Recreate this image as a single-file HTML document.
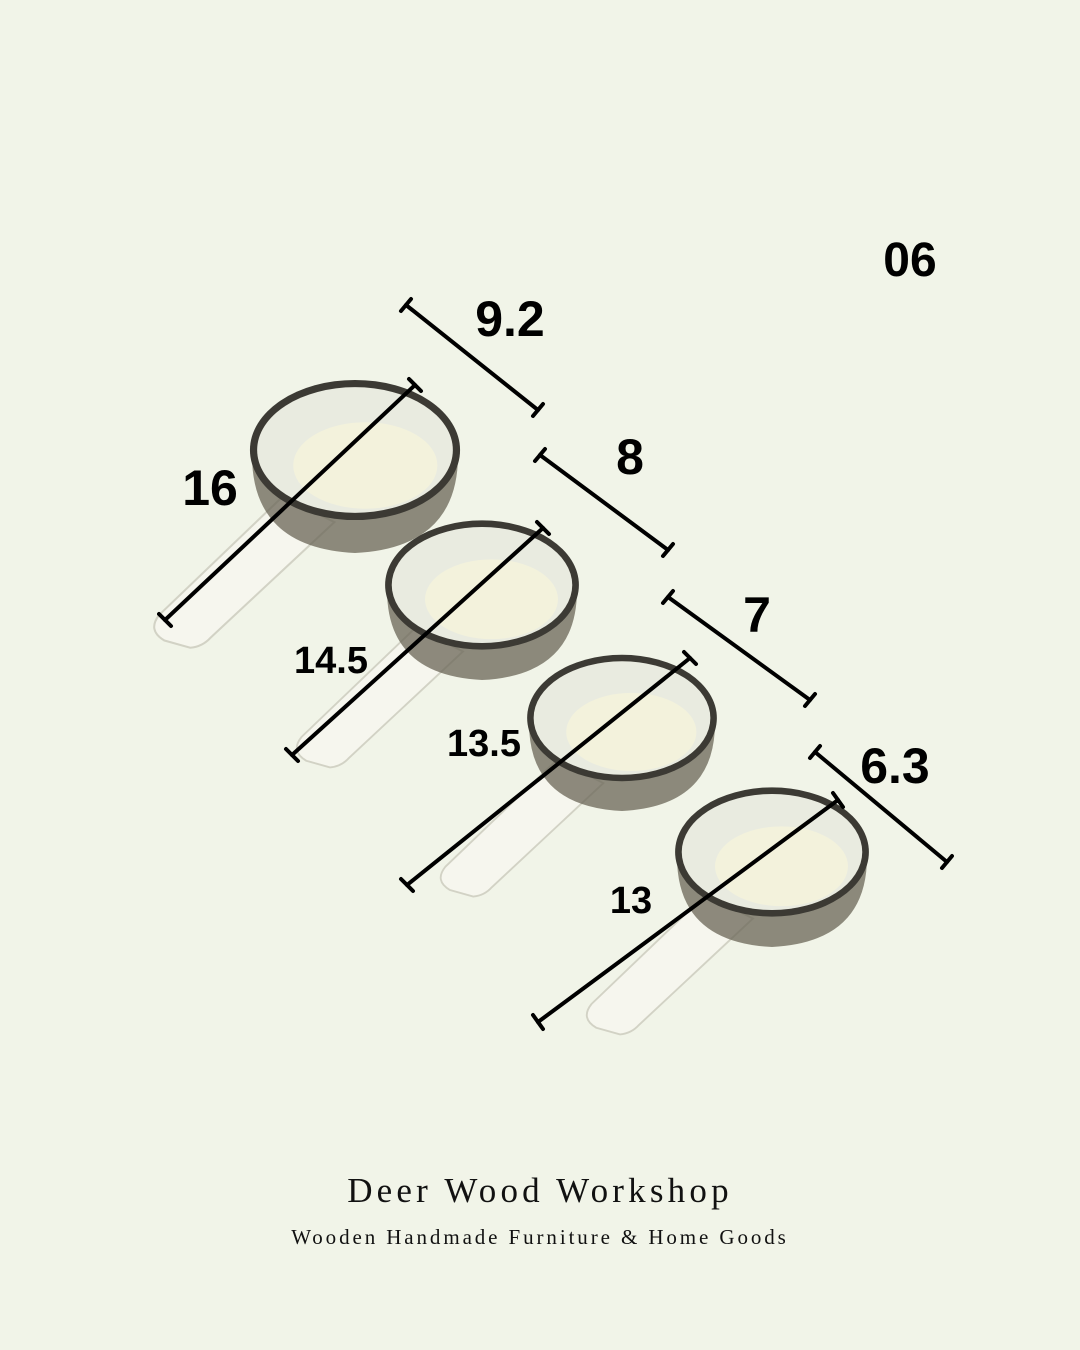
<!DOCTYPE html>
<html><head><meta charset="utf-8"><style>
html,body{margin:0;padding:0;background:#f1f4e8;}
svg{display:block}
</style></head><body>
<svg width="1080" height="1350" viewBox="0 0 1080 1350" xmlns="http://www.w3.org/2000/svg">
<rect width="1080" height="1350" fill="#f1f4e8"/>
<defs>
<g id="cup">
  <path d="M-70,45 L-190,160 Q-202,175 -185,185 L-160,192 Q-148,191 -140,182 L-20,70 Z" fill="#f7f7ef" stroke="#d0d0c2" stroke-width="2"/>
  <path d="M-100,5 Q-100,95 0,100 Q100,95 100,5 Z" fill="#5e584a" opacity="0.75"/>
  <ellipse cx="0" cy="0" rx="102" ry="68" fill="#2c2a24"/>
  <ellipse cx="0" cy="0" rx="95" ry="61" fill="#e9ebe0"/>
  <ellipse cx="10" cy="15" rx="70" ry="42" fill="#f3f2dc"/>
</g>
</defs>
<g opacity="0.92">
<use href="#cup" transform="translate(355,450) scale(1.03)"/>
<use href="#cup" transform="translate(482,585) scale(0.95)"/>
<use href="#cup" transform="translate(622,718) scale(0.93)"/>
<use href="#cup" transform="translate(772,852) scale(0.95)"/>
</g>
<g stroke="#000" stroke-width="4" stroke-linecap="round" fill="none">
<line x1="165" y1="620" x2="415" y2="385"/>
<line x1="159" y1="614" x2="171" y2="626"/><line x1="409" y1="379" x2="421" y2="391"/>
<line x1="292" y1="755" x2="543" y2="528"/>
<line x1="286" y1="749" x2="298" y2="761"/><line x1="537" y1="522" x2="549" y2="534"/>
<line x1="407" y1="885" x2="690" y2="658"/>
<line x1="401" y1="879" x2="413" y2="891"/><line x1="684" y1="652" x2="696" y2="664"/>
<line x1="538" y1="1022" x2="838" y2="800"/>
<line x1="533" y1="1015" x2="543" y2="1029"/><line x1="833" y1="793" x2="843" y2="807"/>
<line x1="406" y1="305" x2="538" y2="410"/>
<line x1="411" y1="299" x2="401" y2="311"/><line x1="543" y1="404" x2="533" y2="416"/>
<line x1="540" y1="455" x2="668" y2="550"/>
<line x1="545" y1="449" x2="535" y2="461"/><line x1="673" y1="544" x2="663" y2="556"/>
<line x1="668" y1="597" x2="810" y2="700"/>
<line x1="673" y1="591" x2="663" y2="603"/><line x1="815" y1="694" x2="805" y2="706"/>
<line x1="815" y1="752" x2="947" y2="862"/>
<line x1="820" y1="746" x2="810" y2="758"/><line x1="952" y1="856" x2="942" y2="868"/>
</g>
<g font-family="Liberation Sans, sans-serif" font-weight="bold" fill="#000" text-anchor="middle">
<text x="910" y="276" font-size="48">06</text>
<text x="510" y="336" font-size="50">9.2</text>
<text x="210" y="505" font-size="50">16</text>
<text x="630" y="474" font-size="50">8</text>
<text x="757" y="632" font-size="50">7</text>
<text x="895" y="783" font-size="50">6.3</text>
<text x="331" y="673" font-size="38">14.5</text>
<text x="484" y="756" font-size="38">13.5</text>
<text x="631" y="913" font-size="38">13</text>
</g>
<g font-family="Liberation Serif, serif" fill="#111" text-anchor="middle">
<text x="540" y="1202" font-size="35" letter-spacing="4.2">Deer Wood Workshop</text>
<text x="540" y="1244" font-size="21" letter-spacing="2.9">Wooden Handmade Furniture &amp; Home Goods</text>
</g>
</svg>
</body></html>
